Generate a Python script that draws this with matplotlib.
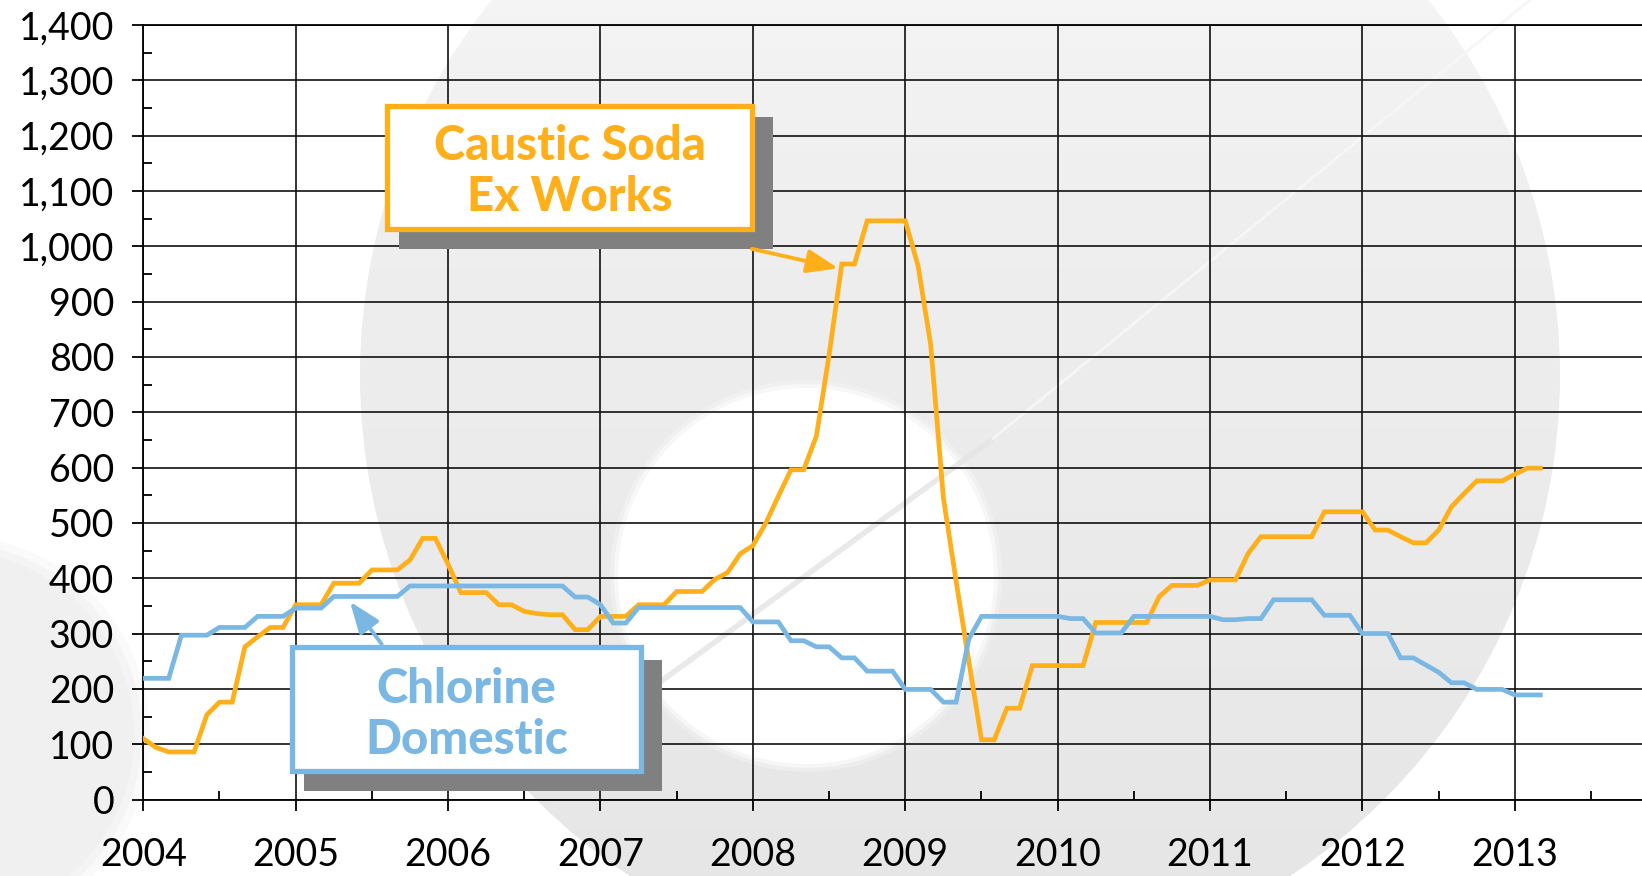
import matplotlib
matplotlib.use('Agg')
import matplotlib.pyplot as plt
import numpy as np
from matplotlib.patches import Circle, Rectangle
from matplotlib.colors import LinearSegmentedColormap
from matplotlib.ticker import MultipleLocator, FuncFormatter

# monthly prices, Jan 2004 .. Mar 2013
caustic_soda = [110, 94, 86, 86, 86, 153, 176, 176, 276, 294, 311, 311,      # 2004
                352, 352, 352, 391, 391, 391, 415, 415, 415, 433, 472, 472,  # 2005
                425, 374, 374, 374, 352, 352, 340, 336, 334, 334, 307, 307,  # 2006
                331, 331, 331, 352, 352, 352, 376, 376, 376, 398, 410, 444,  # 2007
                459, 499, 548, 596, 596, 657, 804, 968, 968, 1046, 1046, 1046,  # 2008
                1046, 965, 822, 545, 395, 250, 108, 108, 165, 165, 242, 242,  # 2009
                242, 242, 242, 320, 320, 320, 320, 320, 367, 387, 387, 387,  # 2010
                397, 397, 397, 445, 475, 475, 475, 475, 475, 520, 520, 520,  # 2011
                520, 487, 487, 475, 464, 464, 487, 529, 553, 576, 576, 576,  # 2012
                588, 599, 599]                                               # 2013
chlorine = [219, 219, 219, 297, 297, 297, 311, 311, 311, 331, 331, 331,      # 2004
            346, 346, 346, 367, 367, 367, 367, 367, 367, 386, 386, 386,      # 2005
            386, 386, 386, 386, 386, 386, 386, 386, 386, 386, 366, 366,      # 2006
            352, 319, 319, 347, 347, 347, 347, 347, 347, 347, 347, 347,      # 2007
            321, 321, 321, 287, 287, 276, 276, 256, 256, 232, 232, 232,      # 2008
            199, 199, 199, 176, 176, 290, 331, 331, 331, 331, 331, 331,      # 2009
            331, 327, 327, 301, 301, 301, 331, 331, 331, 331, 331, 331,      # 2010
            331, 325, 325, 327, 327, 361, 361, 361, 361, 333, 333, 333,      # 2011
            300, 300, 300, 256, 256, 243, 230, 211, 211, 199, 199, 199,      # 2012
            189, 189, 189]                                                   # 2013
start_year = 2004
year_ticks = list(range(2004, 2014))

months = start_year + np.arange(len(caustic_soda)) / 12.0

orange = '#FFAF19'
blue = '#7AB7E3'
shadow = '#808080'
plt.rcParams['font.family'] = ['Lato', 'DejaVu Sans']

W, H = 1642, 876
fig = plt.figure(figsize=(W / 100, H / 100), dpi=100)

# --- watermark background (pixel coords) ---
bg = fig.add_axes([0, 0, 1, 1], zorder=0)
bg.set_xlim(0, W)
bg.set_ylim(H, 0)
bg.axis('off')
cmap = LinearSegmentedColormap.from_list('wm', [(0, '#fbfbfb'), (0.35, '#efefef'), (1, '#e5e5e5')])
grad = np.linspace(0, 1, 256).reshape(-1, 1)
img = bg.imshow(grad, cmap=cmap, extent=(350, 1570, 990, -240), aspect='auto', zorder=1)
disk = Circle((960, 375), 600, transform=bg.transData)
img.set_clip_path(disk)
# soft-edged white inner disk
for r, a in [(196, 0.25), (192, 0.5), (188, 1.0)]:
    bg.add_patch(Circle((806, 576), r, fc='white', ec='none', alpha=a, zorder=2))
for r, a in [(200, 0.3), (192, 0.5), (184, 1.0)]:
    bg.add_patch(Circle((-50, 735), r, fc='#f0f0f0', ec='none', alpha=a, zorder=2))
bg.plot([990, 1530], [441, 0], color='#f6f6f6', lw=2, zorder=3)
bg.plot([630, 990], [704, 441], color='#e4e4e4', lw=4, alpha=0.8, zorder=3)
bg.set_xlim(0, W)
bg.set_ylim(H, 0)

# --- main chart ---
x0, x1 = 143.3, W
y0, y1 = 799.5, 25.0
ax = fig.add_axes([x0 / W, (H - y0) / H, (x1 - x0) / W, (y0 - y1) / H], zorder=1)
ax.set_facecolor('none')

ax.plot(months, caustic_soda, color=orange, lw=3.4, zorder=3, solid_joinstyle='miter')
ax.plot(months, chlorine, color=blue, lw=3.4, zorder=3, solid_joinstyle='miter')

ax.set_xlim(2004, 2004 + (x1 - x0) / 152.4)
ax.set_ylim(0, 1400)
ax.set_xticks(year_ticks)
ax.set_xticklabels([str(y) for y in year_ticks])
ax.xaxis.set_minor_locator(MultipleLocator(0.5))
ax.yaxis.set_major_locator(MultipleLocator(100))
ax.yaxis.set_minor_locator(MultipleLocator(50))
ax.yaxis.set_major_formatter(FuncFormatter(lambda v, p: f'{int(v):,}'))

ax.set_axisbelow(True)
ax.grid(True, which='major', color='#111111', lw=1.2)
ax.tick_params(axis='both', which='major', direction='out', length=8, width=1.3,
               labelsize=27, colors='black')
ax.tick_params(axis='y', which='major', pad=13)
ax.tick_params(axis='x', which='major', pad=19)
ax.tick_params(axis='both', which='minor', direction='in', length=6.5, width=1.3)
for s in ['left', 'bottom', 'top']:
    ax.spines[s].set_linewidth(1.3)
    ax.spines[s].set_color('black')
ax.spines['right'].set_visible(False)

# --- callout boxes ---
def callout(ax, box, shad, color, lines, arrow):
    bx0, bx1, by0, by1 = box
    sx0, sx1, sy0, sy1 = shad
    ax.add_patch(Rectangle((sx0, sy0), sx1 - sx0, sy1 - sy0, fc=shadow, ec='none', zorder=5))
    ax.add_patch(Rectangle((bx0, by0), bx1 - bx0, by1 - by0, fc='white', ec=color,
                           lw=3.8, joinstyle='miter', zorder=6))
    xc = (bx0 + bx1) / 2
    for txt, yb in lines:
        ax.text(xc, yb, txt, color=color, fontsize=34, fontweight='black',
                ha='center', va='baseline', zorder=7)
    (ax_, ay_), (tx, ty) = arrow
    ax.annotate('', xy=(tx, ty), xytext=(ax_, ay_),
                arrowprops=dict(arrowstyle='-|>,head_length=0.95,head_width=0.36',
                                mutation_scale=20, color=color, lw=2.8,
                                shrinkA=0, shrinkB=0),
                zorder=6)

callout(ax, (2005.598, 2007.997, 1031.8, 1253.3), (2005.678, 2008.131, 995, 1233.7), orange,
        [('Caustic Soda', 1155.8), ('Ex Works', 1063)],
        ((2007.994, 995.3), (2008.560, 960.2)))
callout(ax, (2004.973, 2007.268, 51.9, 275.1), (2005.052, 2007.402, 15.0, 251.4), blue,
        [('Chlorine', 173.9), ('Domestic', 83)],
        ((2005.564, 281), (2005.356, 357.6)))

fig.savefig('out.png', dpi=100)
